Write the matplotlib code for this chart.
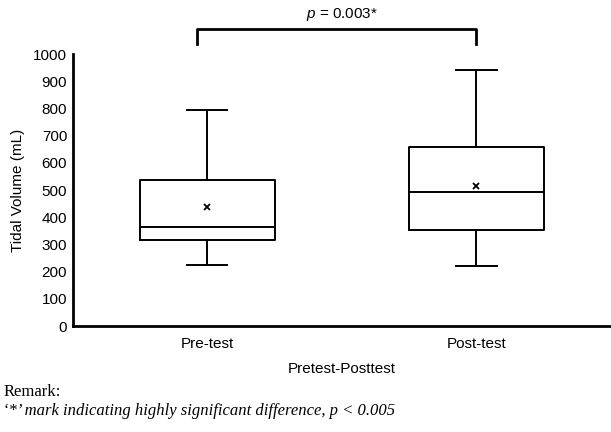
import matplotlib.pyplot as plt

plt.rcParams['font.family'] = ['Liberation Sans', 'DejaVu Sans']
plt.rcParams['mathtext.fontset'] = 'custom'
plt.rcParams['mathtext.it'] = 'Liberation Sans:italic'

# box statistics (mL)
groups = ["Pre-test", "Post-test"]
whislo = [226, 222]
q1 = [318, 352]
med = [365, 494]
q3 = [538, 657]
whishi = [793, 943]
means = [436, 516]

stats = []
for i in range(len(groups)):
    stats.append({"label": groups[i], "whislo": whislo[i], "q1": q1[i], "med": med[i],
                  "q3": q3[i], "whishi": whishi[i], "mean": means[i], "fliers": []})

fig = plt.figure(figsize=(6.11, 4.32), dpi=100)
ax = fig.add_axes([0.119, 0.245, 0.881, 0.63])

line = dict(color="black", linewidth=1.4)
ax.bxp(stats, positions=[1, 2], widths=0.5, capwidths=0.15, showmeans=True,
       boxprops=line, whiskerprops=line, capprops=line,
       medianprops=line,
       meanprops=dict(marker="x", markeredgecolor="black", markersize=4, markeredgewidth=1.3))

ax.set_xlim(0.5, 2.5)
ax.set_ylim(0, 1000)
ax.set_yticks(range(0, 1001, 100))
ax.tick_params(axis="both", length=0, labelsize=11, pad=4)
ax.tick_params(axis="x", pad=8)
for s in ["top", "right"]:
    ax.spines[s].set_visible(False)
ax.spines["left"].set_linewidth(2)
ax.spines["bottom"].set_linewidth(2)

ax.set_ylabel("Tidal Volume (mL)", fontsize=11, labelpad=6)
ax.set_xlabel("Pretest-Posttest", fontsize=11, labelpad=8)

# significance bracket
ax.plot([0.96, 0.96, 2.0, 2.0], [1035, 1092, 1092, 1035], color="black", lw=2, clip_on=False)
ax.text(1.5, 1115, r"$p$ = 0.003*", ha="center", va="bottom", fontsize=11)

fig.text(0.005, 0.083, "Remark:", family="Liberation Serif", fontsize=12)
fig.text(0.005, 0.039, "\u2018*\u2019 mark indicating highly significant difference, p < 0.005",
         family="Liberation Serif", style="italic", fontsize=12)

fig.savefig("out.png", dpi=100)
